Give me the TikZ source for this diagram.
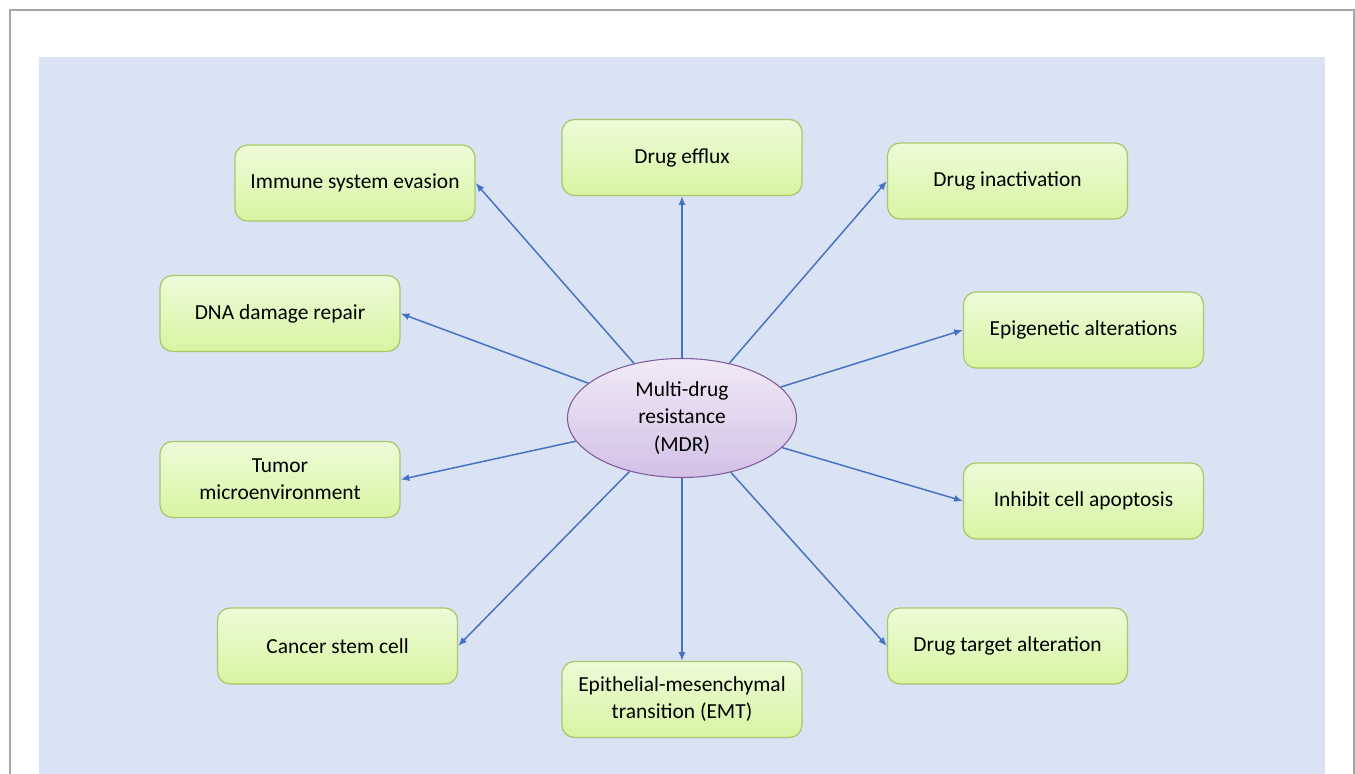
\documentclass[tikz,border=0pt]{standalone}
\usepackage{fontspec}
\setmainfont{Carlito}
\usetikzlibrary{shapes.geometric,arrows.meta}
\definecolor{bgblue}{HTML}{DAE3F3}
\definecolor{boxtop}{HTML}{EEFBD8}
\definecolor{boxbot}{HTML}{D6F5A2}
\definecolor{boxline}{HTML}{A5C86A}
\definecolor{elltop}{HTML}{F1EAF7}
\definecolor{ellbot}{HTML}{D3C0E6}
\definecolor{ellline}{HTML}{7E5A9B}
\definecolor{arrowblue}{HTML}{4472C4}
\begin{document}
\begin{tikzpicture}[
	font=\fontsize{12.2}{15.4}\selectfont,
	cause/.style={
		rectangle,
		rounded corners=2.5mm,
		draw=boxline,
		line width=0.7pt,
		top color=boxtop,
		bottom color=boxbot,
		align=center,
		minimum width=4.8cm,
		minimum height=1.52cm
	},
	core/.style={
		ellipse,
		draw=ellline,
		line width=0.6pt,
		top color=elltop,
		bottom color=ellbot,
		align=center,
		minimum width=4.58cm,
		minimum height=2.38cm,
		inner sep=0pt
	},
	ArrowMDR/.style={% thin blue arrows out of the centre
		draw=arrowblue,
		line width=0.85pt,
	},
]
	\useasboundingbox (-13.64,-7.12) rectangle (13.46,8.36);
	\draw [gray!70, line width=0.7pt] (-13.44,-7.12) |- (13.44,8.16) -- (13.44,-7.12);
	\fill [bgblue] (-12.86,-7.12) rectangle (12.86,7.22);

	\node [core] (mdr) at (0,0) {Multi-drug\\resistance\\(MDR)};

	\node [cause] (efflux) at (0,5.21) {Drug efflux};
	\node [cause] (inact) at (6.51,4.74) {Drug inactivation};
	\node [cause] (epi) at (8.03,1.76) {Epigenetic alterations};
	\node [cause] (apop) at (8.03,-1.66) {Inhibit cell apoptosis};
	\node [cause] (target) at (6.51,-4.56) {Drug target alteration};
	\node [cause] (emt) at (0,-5.63) {Epithelial-mesenchymal\\transition (EMT)};
	\node [cause] (csc) at (-6.89,-4.56) {Cancer stem cell};
	\node [cause] (tme) at (-8.04,-1.23) {Tumor\\microenvironment};
	\node [cause] (dna) at (-8.04,2.09) {DNA damage repair};
	\node [cause] (immune) at (-6.54,4.70) {Immune system evasion};

	\draw [-{Latex[length=5pt,width=4pt]},ArrowMDR] (mdr) -- (efflux.south);
	\draw [-{Latex[length=5pt,width=4pt]},ArrowMDR] (mdr) -- (inact.west);
	\draw [-{Latex[length=5pt,width=4pt]},ArrowMDR] (mdr) -- (epi.west);
	\draw [-{Latex[length=5pt,width=4pt]},ArrowMDR] (mdr) -- (apop.west);
	\draw [-{Latex[length=5pt,width=4pt]},ArrowMDR] (mdr) -- (target.west);
	\draw [-{Latex[length=5pt,width=4pt]},ArrowMDR] (mdr) -- (emt.north);
	\draw [-{Latex[length=5pt,width=4pt]},ArrowMDR] (mdr) -- (csc.east);
	\draw [-{Latex[length=5pt,width=4pt]},ArrowMDR] (mdr) -- (tme.east);
	\draw [-{Latex[length=5pt,width=4pt]},ArrowMDR] (mdr) -- (dna.east);
	\draw [-{Latex[length=5pt,width=4pt]},ArrowMDR] (mdr) -- (immune.east);
\end{tikzpicture}
\end{document}
